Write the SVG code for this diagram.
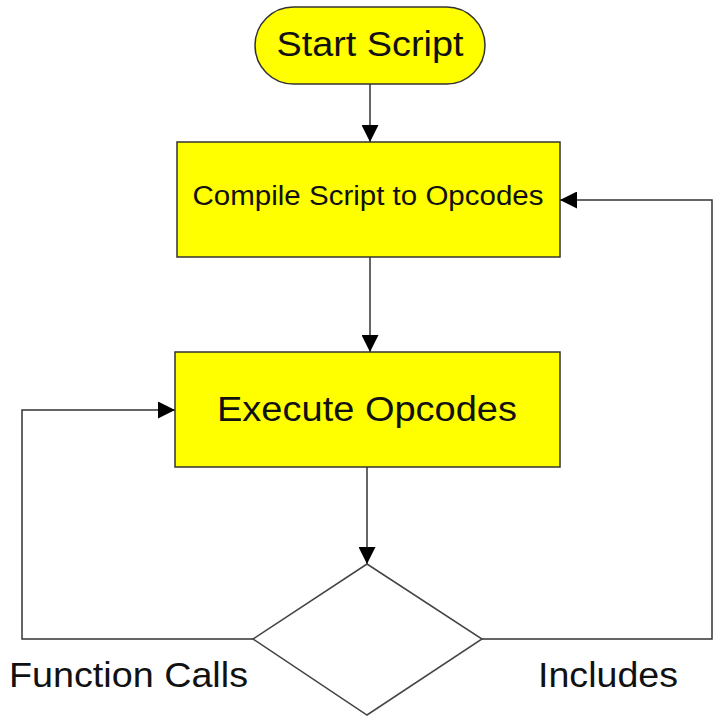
<svg xmlns="http://www.w3.org/2000/svg" width="718" height="719" viewBox="0 0 718 719">
<defs>
<style>
.box{fill:#ffff00;stroke:#333;stroke-width:1.5}
.dia{fill:#fff;stroke:#444;stroke-width:1.5}
.ln{fill:none;stroke:#333;stroke-width:1.5}
text{font-family:"Liberation Sans",Arial,sans-serif;fill:#111}
</style>
<marker id="ah" viewBox="0 0 10 10" refX="10" refY="5" markerWidth="17" markerHeight="17" markerUnits="userSpaceOnUse" orient="auto">
<path d="M0,0 L10,5 L0,10 z" fill="#000"/>
</marker>
</defs>
<rect width="718" height="719" fill="#fff"/>
<g id="connectors">
<line class="ln" x1="370" y1="84" x2="370" y2="142" marker-end="url(#ah)"/>
<line class="ln" x1="370" y1="257" x2="370" y2="352" marker-end="url(#ah)"/>
<line class="ln" x1="367" y1="467" x2="367" y2="564" marker-end="url(#ah)"/>
<polyline class="ln" points="253,639 22,639 22,410 175,410" marker-end="url(#ah)"/>
<polyline class="ln" points="482,639 712,639 712,200 560,200" marker-end="url(#ah)"/>
</g>
<g id="start">
<rect class="box" x="255" y="7" width="230" height="77" rx="38.5"/>
<text x="370" y="56" font-size="35" text-anchor="middle" textLength="187" lengthAdjust="spacingAndGlyphs">Start Script</text>
</g>
<g id="compile">
<rect class="box" x="177" y="142" width="383" height="115"/>
<text x="368" y="205" font-size="27" text-anchor="middle" textLength="351" lengthAdjust="spacingAndGlyphs">Compile Script to Opcodes</text>
</g>
<g id="execute">
<rect class="box" x="175" y="352" width="385" height="115"/>
<text x="367" y="421" font-size="35" text-anchor="middle" textLength="300" lengthAdjust="spacingAndGlyphs">Execute Opcodes</text>
</g>
<g id="decision">
<polygon class="dia" points="367,564 482,639 367,715 253,639"/>
</g>
<g id="labels">
<text x="9" y="687" font-size="35" textLength="239" lengthAdjust="spacingAndGlyphs">Function Calls</text>
<text x="538" y="687" font-size="35" textLength="140" lengthAdjust="spacingAndGlyphs">Includes</text>
</g>
</svg>
